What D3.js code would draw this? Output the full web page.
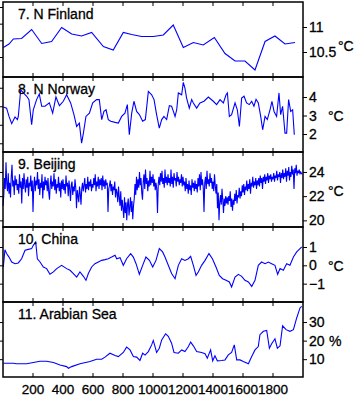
<!DOCTYPE html>
<html><head><meta charset="utf-8">
<script src="https://cdn.jsdelivr.net/npm/d3@7"></script>
<style>
body{margin:0;background:#fff;}
text{font-family:"Liberation Sans",Arial,sans-serif;fill:#000;stroke:#000;stroke-width:0.3px;}
</style></head>
<body><svg id="c" width="356" height="400"></svg>
<script>
// ---- data ----
const xTicks = [200,400,600,800,1000,1200,1400,1600,1800];
const titles = ["7. N Finland","8. N Norway","9. Beijing","10. China","11. Arabian Sea"];
const units = ["°C","°C","°C","°C","%"];

const finlandYears = [2,40,69,124,191,258,324,391,458,524,591,669,735,802,858,924,1002,1069,1135,1202,1269,1335,1409,1480,1547,1613,1680,1747,1813,1880,1947];
const finlandVals  = [10.59,10.66,10.76,10.77,10.95,10.67,10.71,10.99,10.86,10.82,10.89,10.61,10.54,10.89,10.85,10.81,10.81,10.84,11.04,10.59,10.69,10.64,10.79,10.47,10.32,10.32,10.14,10.71,10.82,10.66,10.69];

const norwayYears = [2,24,40,58,80,96,102,118,136,158,173,191,202,224,242,258,280,309,331,353,376,402,424,451,473,491,509,524,536,553,576,598,624,642,658,673,687,702,718,747,769,791,813,829,842,858,873,891,909,931,949,969,991,1007,1024,1042,1058,1073,1091,1109,1124,1136,1147,1158,1169,1191,1202,1213,1224,1242,1258,1269,1291,1313,1340,1369,1402,1424,1447,1469,1487,1496,1509,1524,1547,1562,1576,1591,1607,1624,1642,1658,1673,1687,1702,1718,1731,1747,1762,1780,1793,1807,1824,1840,1851,1864,1880,1891,1904,1918,1931,1942];
const norwayVals  = [3.46,3.40,2.95,2.56,2.92,2.78,2.95,4.39,4.22,4.04,3.86,2.50,3.31,3.86,4.16,3.50,3.50,3.68,3.13,4.00,3.53,3.77,4.12,3.68,3.05,2.41,2.59,1.51,2.05,2.95,3.13,3.68,3.86,3.86,2.78,3.22,3.31,2.78,2.69,2.63,2.59,2.95,3.13,3.59,1.96,3.13,3.77,3.22,3.05,2.69,2.78,4.30,4.12,3.86,3.05,2.32,2.78,2.95,2.78,3.53,3.50,3.22,2.95,3.31,4.22,4.12,4.79,4.48,3.94,3.40,3.86,3.68,3.40,3.68,3.77,4.00,3.77,3.59,3.86,3.68,4.12,4.22,2.95,3.05,3.68,3.31,2.41,3.94,4.04,3.68,3.59,3.77,3.50,3.88,3.68,2.95,2.23,2.95,2.78,3.31,3.77,3.22,2.95,4.22,3.05,3.50,2.05,2.05,3.86,3.22,3.31,1.96];

const beijingStart = 0, beijingStep = 5;
const beijingVals = [
21.2,22.0,23.5,22.6,24.8,23.0,22.4,23.9,22.2,23.1,21.9,23.6,24.6,22.8,23.3,22.1,23.7,22.9,23.4,22.5,
23.0,22.2,23.8,22.7,23.2,21.4,23.5,22.6,23.9,22.9,22.3,23.4,22.7,23.6,22.0,23.1,22.8,23.7,22.4,23.3,
20.7,22.8,23.6,22.4,23.3,22.9,24.0,22.6,23.4,22.1,23.1,22.7,23.8,21.8,23.2,22.5,23.6,22.9,23.3,22.4,
23.5,22.3,21.7,23.0,23.7,22.6,23.2,22.8,23.9,22.5,23.4,22.2,23.0,22.7,23.6,22.4,23.1,21.9,23.3,22.6,
23.4,22.5,23.0,22.2,23.7,22.8,23.1,22.0,23.3,22.6,21.6,22.9,23.2,22.1,22.8,22.4,23.4,22.7,21.0,22.5,
22.0,21.5,22.8,22.2,21.3,22.6,23.1,22.4,22.9,23.5,22.3,23.0,22.6,23.6,22.5,23.2,22.8,23.4,22.4,23.0,
22.7,23.5,22.9,23.8,22.4,23.2,22.8,23.6,22.6,23.4,22.9,23.5,22.5,23.7,22.8,23.3,22.6,23.4,22.9,23.1,
20.7,22.6,22.9,23.3,22.4,23.0,22.1,22.8,22.5,23.2,21.9,22.6,22.3,21.5,22.8,21.9,21.2,22.4,20.8,21.7,
21.0,20.2,21.9,20.6,21.5,20.0,21.3,21.8,20.4,21.1,21.9,20.7,21.6,20.1,21.2,21.8,23.0,22.1,23.6,22.5,
23.4,22.7,24.0,22.9,23.5,22.3,21.7,23.2,23.8,22.6,24.2,23.0,23.5,22.4,23.3,22.8,24.1,22.9,23.6,23.1,
23.8,22.8,23.4,22.5,23.1,22.6,20.6,23.0,23.6,22.9,23.9,23.2,24.1,23.0,23.5,22.7,24.2,23.1,23.6,22.9,
23.8,23.1,23.5,22.8,24.2,23.0,23.6,22.7,23.9,23.3,23.5,22.8,24.0,23.2,23.6,22.9,23.4,23.1,23.8,22.8,
23.6,22.9,23.2,22.4,23.5,22.6,23.0,22.2,23.3,22.5,22.9,22.1,23.4,22.7,23.1,22.4,23.3,22.6,23.0,22.3,
23.5,22.8,23.8,22.5,24.0,22.9,23.4,22.7,20.7,23.1,23.6,22.6,24.1,23.0,23.4,22.8,23.9,23.1,23.5,22.6,
23.2,22.4,23.8,22.9,22.2,23.0,21.0,22.3,20.0,21.5,22.1,21.3,22.6,21.7,20.6,21.8,21.2,22.0,21.4,21.9,
21.3,22.0,21.6,22.4,21.1,21.8,20.8,21.7,21.3,22.2,21.6,22.5,21.4,22.1,21.9,22.7,21.8,22.4,22.0,22.9,
22.3,23.0,22.1,22.8,22.5,23.3,22.4,23.0,22.6,23.4,22.2,23.1,22.8,23.6,22.7,23.2,22.9,23.5,22.6,23.3,
22.9,23.5,22.8,23.7,23.1,23.5,22.6,23.6,23.2,23.8,23.0,23.6,23.3,23.9,23.1,23.7,23.4,23.8,23.2,23.6,
23.4,23.9,23.2,23.7,23.5,24.1,23.3,23.8,23.6,24.0,23.1,23.9,23.5,24.2,23.4,23.9,23.6,24.3,23.2,24.1,
23.7,24.4,23.3,24.0,23.6,24.5,23.8,24.2,22.6,24.3,23.9,24.6,23.7,24.1,23.9,24.2,23.8,24.0,23.9,23.8];

const chinaYears = [2,13,24,40,58,80,102,124,147,169,191,202,218,229,247,269,291,313,336,358,391,424,447,469,491,513,536,553,569,591,613,636,658,680,702,724,747,758,780,802,824,851,869,887,909,931,953,976,998,1020,1042,1064,1080,1102,1124,1147,1169,1191,1213,1236,1251,1269,1287,1302,1324,1347,1373,1396,1420,1442,1464,1487,1509,1524,1547,1569,1591,1613,1636,1658,1680,1702,1724,1747,1769,1791,1813,1831,1847,1869,1891,1913,1936,1958,1980,1991];
const chinaVals  = [-0.09,0.85,0.64,0.45,0.18,0.09,0.13,0.36,0.82,0.87,0.91,1.09,1.27,0.36,0.18,-0.09,-0.18,-0.49,-0.36,-0.18,0.00,-0.18,-0.27,-0.45,-0.64,-0.36,-0.60,-0.82,-0.45,-0.09,0.09,0.18,0.27,0.31,0.36,0.45,0.55,0.36,0.42,0.00,0.36,0.64,0.45,0.09,-0.49,0.00,0.45,0.27,-0.09,0.27,0.91,0.73,0.45,0.00,-0.45,-0.73,0.00,0.36,0.27,0.36,0.49,0.00,-0.55,-0.36,0.00,0.27,0.64,0.36,-0.09,-0.55,-0.73,-0.82,-0.91,-1.18,-0.64,-0.49,-0.60,-0.82,-0.91,-1.15,-0.82,0.00,0.18,0.09,0.18,0.09,0.00,-0.49,-0.18,-0.27,0.09,0.00,0.45,0.73,0.91,1.00];

const arabianYears = [2,69,91,158,202,247,291,336,380,424,436,458,513,580,624,658,680,713,747,769,802,824,847,869,891,913,931,947,969,991,1002,1024,1042,1058,1084,1102,1124,1140,1169,1191,1213,1236,1251,1269,1291,1324,1347,1362,1384,1398,1413,1429,1458,1480,1502,1524,1542,1558,1580,1602,1636,1658,1680,1702,1713,1736,1758,1776,1791,1813,1829,1847,1864,1887,1913,1936,1958,1980,1991];
const arabianVals  = [7.8,7.8,7.5,7.5,8.2,8.9,8.9,8.2,6.9,6.0,5.1,6.0,7.5,8.7,10.0,10.0,11.1,13.2,12.0,11.4,13.6,16.5,15.0,11.4,11.1,9.3,13.2,12.2,14.1,17.7,20.1,13.6,15.9,20.4,23.7,22.3,18.6,13.6,13.2,15.0,14.1,16.8,19.2,17.2,14.1,13.6,12.9,10.5,15.0,9.1,11.8,9.1,9.3,9.6,12.3,13.6,17.7,9.6,9.6,8.7,7.5,11.4,15.0,16.8,23.2,25.0,25.5,15.9,18.3,21.0,15.9,17.2,28.0,25.9,25.0,25.9,32.2,37.6,38.5];

const yDomains = [[10.0,11.5],[1.03,5.08],[19.45,25.65],[-2.0,2.09],[0.4,40.8]];
const rightTicks = [[11,10.5],[4,3,2],[24,22,20],[1,0,-1],[30,20,10]];
const leftTicks = [[11.4,11.0667,10.7333,10.4],[4.5,3.5,2.5,1.5],[24,22,20],[1,0,-1],[30,20,10]];

// ---- build ----
const zip = (ys,vs)=>ys.map((y,i)=>({x:y,v:vs[i]}));
const series = [
  zip(finlandYears,finlandVals),
  zip(norwayYears,norwayVals),
  beijingVals.map((v,i)=>({x:beijingStart+i*beijingStep,v})),
  zip(chinaYears,chinaVals),
  zip(arabianYears,arabianVals)
];

const svg = d3.select("#c");
const L=3, R=303, top0=2, ph=75, tk=4;
const x = d3.scaleLinear().domain([0,2000]).range([L,R]);
const fmt = v => (v<0?"\u2212"+Math.abs(v):String(v));

series.forEach((data,i)=>{
  const t = top0 + i*ph, b = t+ph;
  const y = d3.scaleLinear().domain(yDomains[i]).range([b,t]);
  const g = svg.append("g");
  g.append("path").datum(data)
    .attr("fill","none").attr("stroke","#0000ff").attr("stroke-width",1.1)
    .attr("d", d3.line().x(d=>x(d.x)).y(d=>y(d.v)));
  g.append("rect").attr("x",L).attr("y",t).attr("width",R-L).attr("height",ph)
    .attr("fill","none").attr("stroke","#000").attr("stroke-width",1.5);
  xTicks.forEach(v=>{
    g.append("line").attr("x1",x(v)).attr("x2",x(v)).attr("y1",t).attr("y2",t+tk).attr("stroke","#000");
    g.append("line").attr("x1",x(v)).attr("x2",x(v)).attr("y1",b).attr("y2",b-tk).attr("stroke","#000");
  });
  const ra = d3.axisRight(y).tickValues(rightTicks[i]).tickSize(tk).tickPadding(2).tickFormat(fmt);
  const rg = g.append("g").attr("transform",`translate(${R},0)`).call(ra);
  rg.select(".domain").remove();
  rg.selectAll("text").attr("font-size",14).attr("font-family","Liberation Sans, Arial, sans-serif");
  const la = d3.axisLeft(y).tickValues(leftTicks[i]).tickSize(3).tickFormat("");
  const lg = g.append("g").attr("transform",`translate(${L},0)`).call(la);
  lg.select(".domain").remove();
  g.append("text").attr("x",18).attr("y",t+17).attr("font-size",14).text(titles[i]);
  g.append("text").attr("x",units[i]==="%"?329:(i===0?338:328)).attr("y",t+(i===0?44:ph/2+2)).attr("dy","0.35em")
    .attr("font-size",14).text(units[i]);
});

const bottom = top0+5*ph;
svg.append("g").selectAll("text").data(xTicks).join("text")
  .attr("x",d=>x(d)).attr("y",bottom+17).attr("text-anchor","middle")
  .attr("font-size",13.5).text(d=>d);
</script></body></html>
